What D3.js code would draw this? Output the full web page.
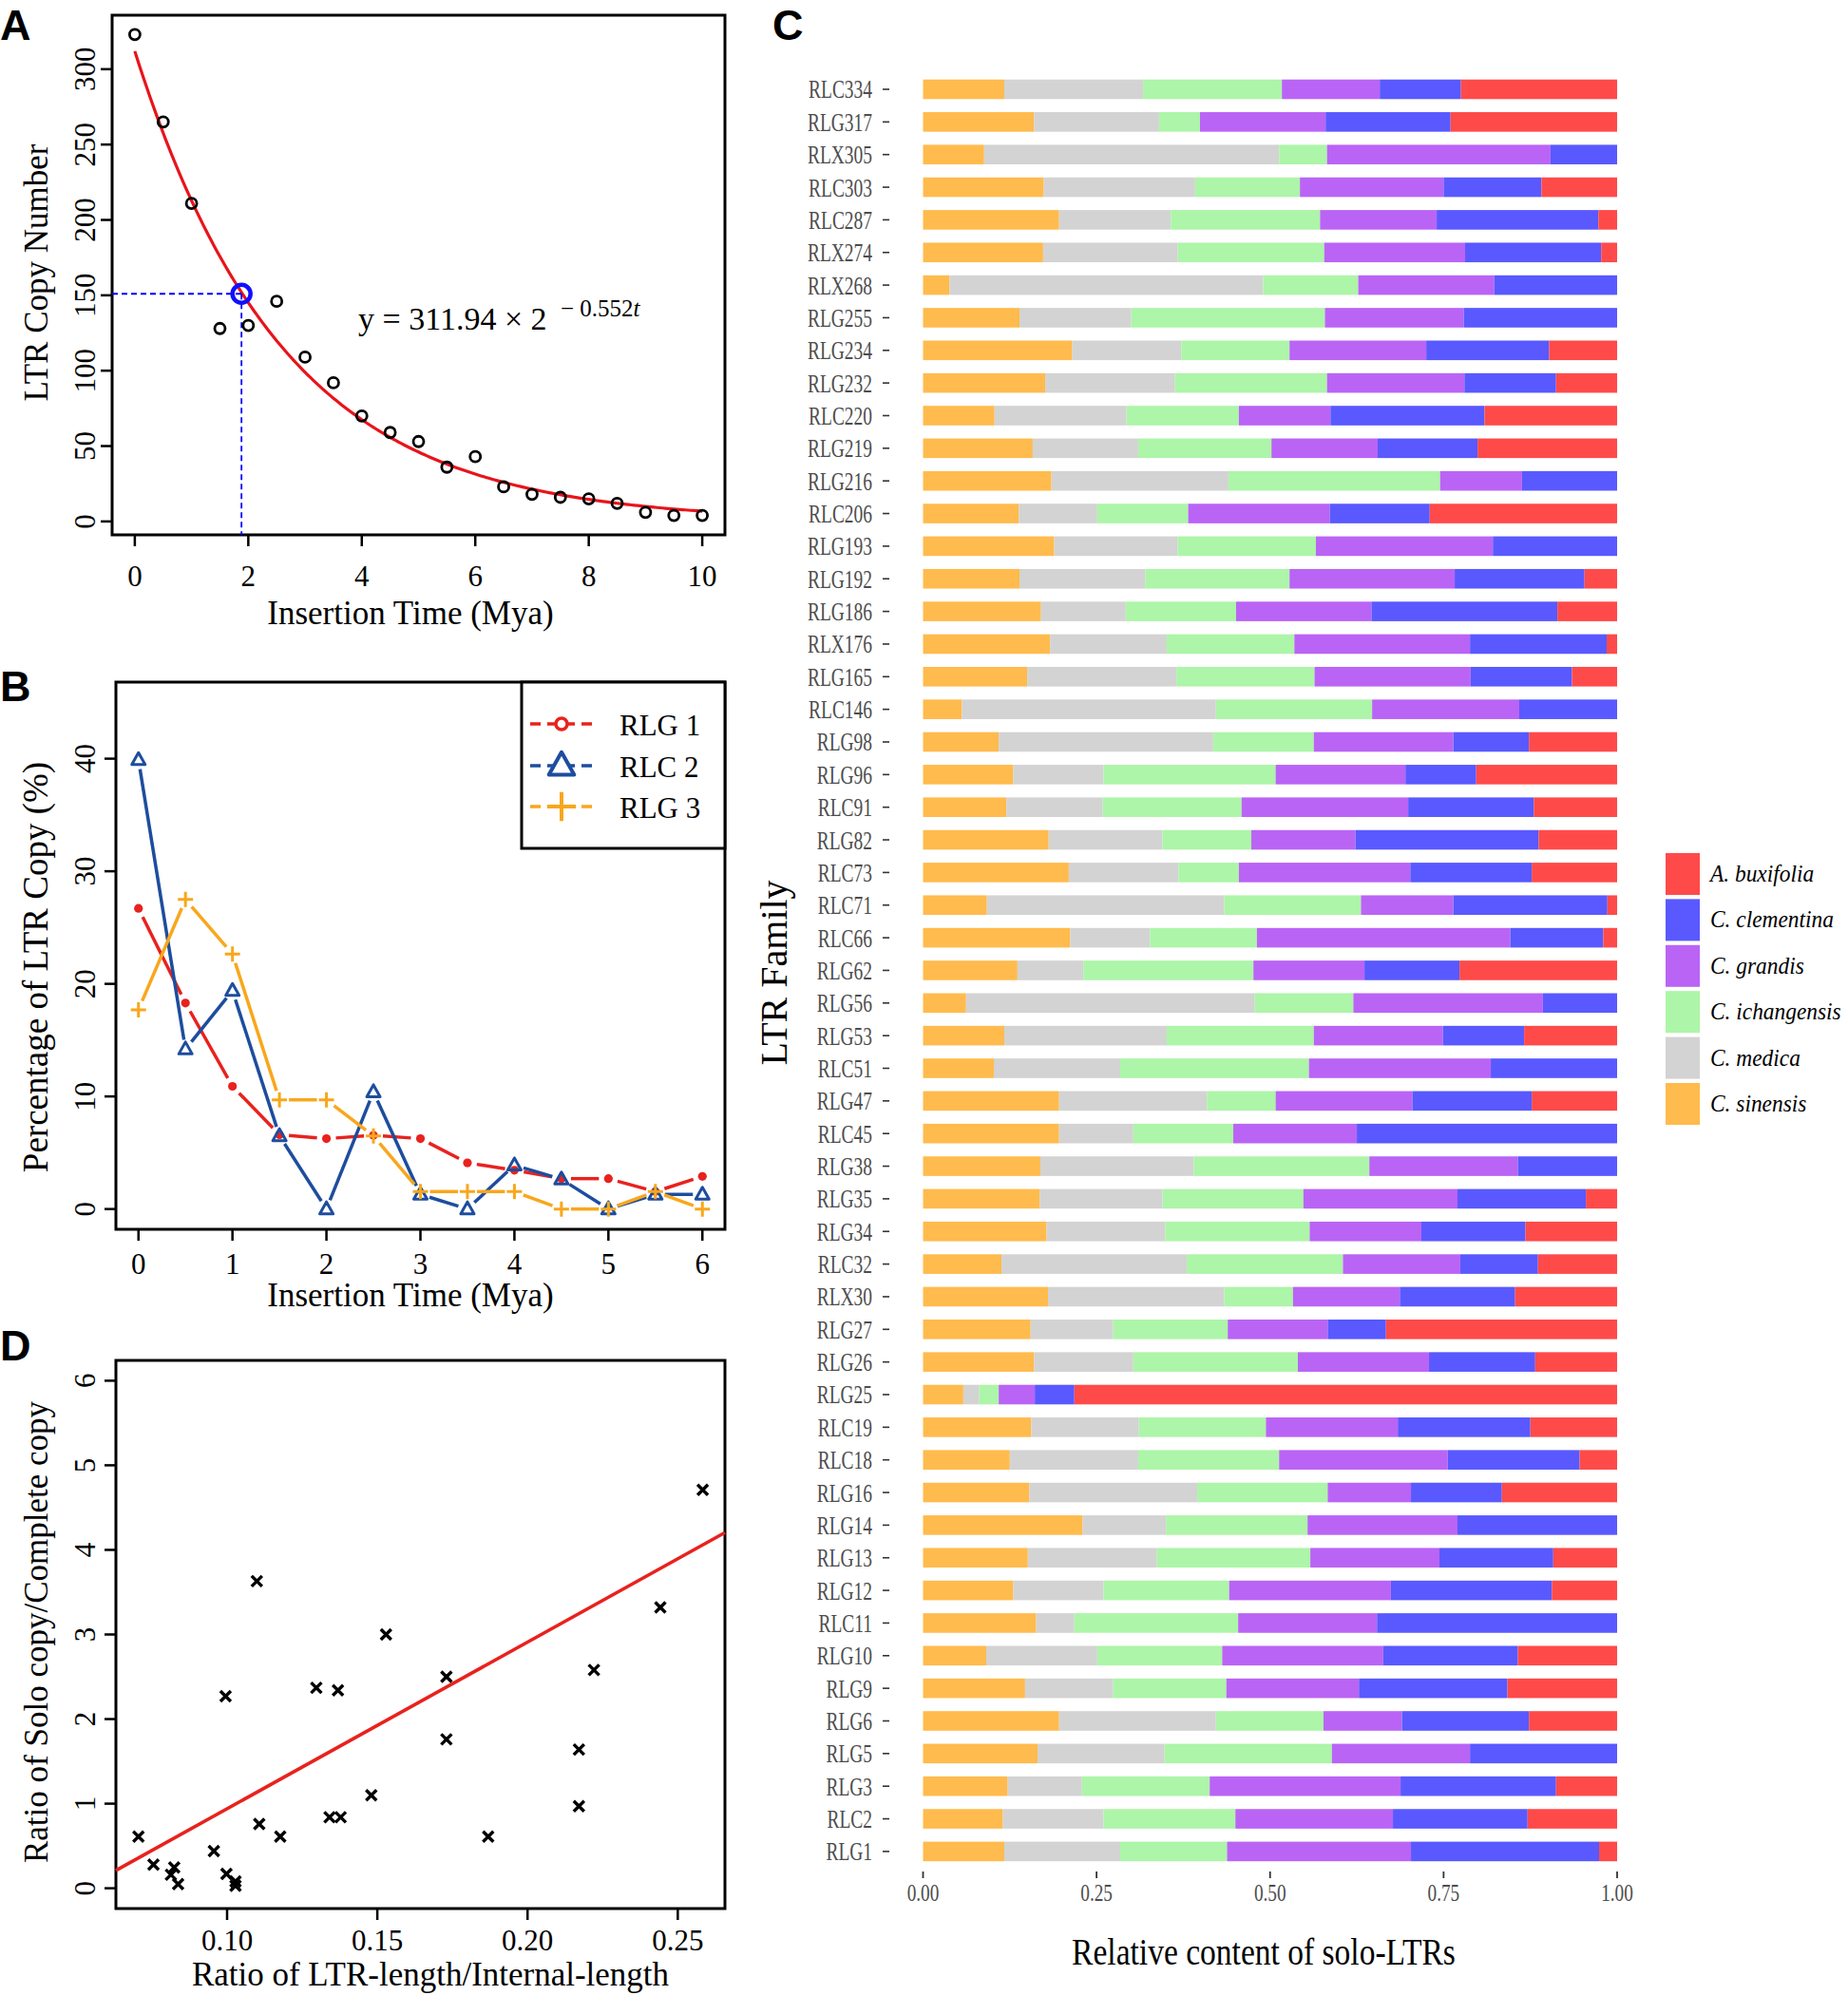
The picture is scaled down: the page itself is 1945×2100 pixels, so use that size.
<!DOCTYPE html>
<html><head><meta charset="utf-8">
<script src="https://cdn.jsdelivr.net/npm/d3@7"></script>
<style>body{margin:0;background:#fff;} text{font-family:"Liberation Serif",serif;}</style>
</head><body><script>
// ---------- Panel A data ----------
const insertTimeA = [0,0.5,1,1.5,2,2.5,3,3.5,4,4.5,5,5.5,6,6.5,7,7.5,8,8.5,9,9.5,10];
const copyNumberA = [323,265,211,128,130,146,109,92,70,59,53,36,43,23,18,16,15,12,6,4,4];
const fitCoefA = 311.94, fitRateA = 0.552;
const halfLifeT = 1.88, halfLifeY = 151;
const xTicksA = [0,2,4,6,8,10];
const yTicksA = [0,50,100,150,200,250,300];

// ---------- Panel B data ----------
const timeB = [0,0.5,1,1.5,2,2.5,3,3.5,4,4.5,5,5.5,6];
const rlg1 = [26.7,18.3,10.9,6.6,6.25,6.55,6.25,4.1,3.45,2.7,2.7,1.55,2.9];
const rlc2 = [39.9,14.2,19.4,6.5,0,10.4,1.3,0,3.9,2.65,0,1.3,1.3];
const rlg3 = [17.7,27.5,22.65,9.7,9.7,6.5,1.55,1.55,1.55,0,0,1.55,0];
const seriesNamesB = ["RLG 1","RLC 2","RLG 3"];
const xTicksB = [0,1,2,3,4,5,6];
const yTicksB = [0,10,20,30,40];

// ---------- Panel D data ----------
const ltrRatio  = [0.0705,0.0755,0.0824,0.0813,0.0837,0.0956,0.0998,0.1028,0.1028,0.0995,0.1099,0.1107,0.1177,0.1297,0.1369,0.1341,0.1378,0.1480,0.1529,0.1730,0.1730,0.1869,0.2171,0.2171,0.2221,0.2442,0.2583];
const soloRatio = [0.61,0.28,0.245,0.16,0.05,0.44,0.17,0.08,0.03,2.27,3.63,0.76,0.61,2.37,2.34,0.84,0.84,1.10,3.00,2.50,1.76,0.61,1.64,0.97,2.58,3.32,4.71];
const regIntercept = -1.03, regSlope = 19.7;
const xTicksD = [0.10,0.15,0.20,0.25];
const yTicksD = [0,1,2,3,4,5,6];

// ---------- Panel C data ----------
const families = ["RLC334","RLG317","RLX305","RLC303","RLC287","RLX274","RLX268","RLG255","RLG234","RLG232","RLC220","RLG219","RLG216","RLC206","RLG193","RLG192","RLG186","RLX176","RLG165","RLC146","RLG98","RLG96","RLC91","RLG82","RLC73","RLC71","RLC66","RLG62","RLG56","RLG53","RLC51","RLG47","RLC45","RLG38","RLG35","RLG34","RLC32","RLX30","RLG27","RLG26","RLG25","RLC19","RLC18","RLG16","RLG14","RLG13","RLG12","RLC11","RLG10","RLG9","RLG6","RLG5","RLG3","RLC2","RLG1"];
const sinensis = [.117,.160,.088,.174,.196,.173,.038,.139,.215,.176,.103,.158,.185,.138,.189,.139,.170,.183,.150,.056,.109,.130,.120,.181,.210,.092,.212,.136,.062,.117,.102,.196,.196,.169,.168,.178,.113,.180,.155,.160,.058,.156,.125,.153,.230,.151,.130,.163,.091,.147,.196,.165,.122,.115,.117];
const medica = [.200,.180,.425,.218,.161,.194,.452,.161,.157,.187,.190,.152,.255,.113,.178,.181,.122,.168,.215,.366,.309,.130,.139,.164,.158,.342,.115,.095,.416,.234,.182,.213,.107,.221,.177,.171,.267,.254,.119,.143,.023,.155,.185,.242,.120,.186,.130,.055,.160,.127,.226,.183,.107,.145,.167];
const ichangensis = [.200,.059,.069,.151,.215,.211,.137,.279,.156,.219,.162,.192,.305,.131,.199,.208,.159,.184,.199,.225,.145,.248,.200,.128,.087,.197,.154,.245,.142,.212,.272,.099,.144,.253,.203,.208,.225,.099,.165,.237,.028,.183,.203,.188,.204,.221,.181,.236,.180,.163,.155,.241,.184,.190,.154];
const grandis = [.141,.181,.322,.207,.168,.203,.196,.200,.197,.198,.132,.153,.118,.204,.255,.238,.195,.253,.225,.212,.201,.187,.240,.150,.247,.133,.365,.160,.273,.186,.262,.197,.178,.214,.222,.161,.169,.154,.144,.189,.052,.190,.243,.120,.216,.186,.233,.200,.232,.191,.113,.199,.275,.227,.265];
const clementina = [.117,.180,.096,.141,.233,.196,.177,.221,.177,.132,.222,.144,.137,.144,.179,.187,.268,.197,.146,.141,.109,.102,.181,.264,.175,.222,.134,.137,.107,.117,.182,.172,.375,.143,.185,.150,.112,.166,.084,.153,.057,.191,.190,.131,.230,.164,.232,.346,.194,.214,.183,.212,.224,.194,.271];
const buxifolia = [.225,.240,0,.109,.027,.023,0,0,.098,.088,.191,.201,0,.270,0,.047,.086,.015,.065,0,.127,.203,.120,.113,.123,.014,.020,.227,0,.134,0,.123,0,0,.045,.132,.114,.147,.333,.118,.782,.125,.054,.166,0,.092,.094,0,.143,.158,.127,0,.088,.129,.026];
const speciesKeys = ["sinensis","medica","ichangensis","grandis","clementina","buxifolia"];
const speciesLabels = ["C. sinensis","C. medica","C. ichangensis","C. grandis","C. clementina","A. buxifolia"];
const speciesColors = ["#FFBB4D","#D3D3D3","#ADF5A8","#BA64F5","#5959FF","#FF4A4A"];
const xTicksC = [0,0.25,0.5,0.75,1];

// ---------- setup ----------
const W = 1945, H = 2100;
const svg = d3.select("body").append("svg").attr("width", W).attr("height", H);
svg.append("rect").attr("width", W).attr("height", H).attr("fill", "#fff");
const SANS = '"Liberation Sans", Arial, sans-serif';

function panelLetter(t, x, y) {
  svg.append("text").attr("x", x).attr("y", y).text(t)
    .style("font-family", SANS).style("font-weight", "bold").style("font-size", "45px");
}

// R base-graphics style frame + axes
function rFrame(box, x, y, xt, yt, xfmt, yfmt, o) {
  const g = svg.append("g");
  g.append("rect").attr("x", box.x0).attr("y", box.y0)
    .attr("width", box.x1 - box.x0).attr("height", box.y1 - box.y0)
    .attr("fill", "none").attr("stroke", "#000").attr("stroke-width", 3);
  const tl = 12;
  xt.forEach(v => {
    g.append("line").attr("x1", x(v)).attr("x2", x(v)).attr("y1", box.y1).attr("y2", box.y1 + tl)
      .attr("stroke", "#000").attr("stroke-width", 2.5);
    g.append("text").attr("x", x(v)).attr("y", box.y1 + o.xLabOff).attr("text-anchor", "middle")
      .style("font-size", o.tickSize + "px").text(xfmt(v));
  });
  yt.forEach(v => {
    g.append("line").attr("x1", box.x0 - tl).attr("x2", box.x0).attr("y1", y(v)).attr("y2", y(v))
      .attr("stroke", "#000").attr("stroke-width", 2.5);
    g.append("text").attr("transform", `translate(100,${y(v)}) rotate(-90)`).attr("text-anchor", "middle")
      .style("font-size", o.tickSize + "px").text(yfmt(v));
  });
  g.append("text").attr("x", o.xTitleX).attr("y", box.y1 + o.xTitleOff).attr("text-anchor", "middle")
    .style("font-size", o.titleSize + "px").text(o.xTitle);
  g.append("text").attr("transform", `translate(50,${o.yTitleY}) rotate(-90)`).attr("text-anchor", "middle")
    .style("font-size", (o.yTitleSize || o.titleSize) + "px").text(o.yTitle);
  return g;
}

// ---------- Panel A ----------
{
  const box = {x0: 118, x1: 763, y0: 16, y1: 563};
  const x = d3.scaleLinear([-0.4, 10.4], [box.x0, box.x1]);
  const y = d3.scaleLinear([-8.9, 335.8], [box.y1, box.y0]);
  rFrame(box, x, y, xTicksA, yTicksA, d3.format("d"), d3.format("d"),
    {xLabOff: 54, tickSize: 31, titleSize: 35, xTitle: "Insertion Time (Mya)", xTitleX: 432, xTitleOff: 94,
     yTitle: "LTR Copy Number", yTitleY: 287});
  const g = svg.append("g");
  const ts = d3.range(0, 10.0001, 0.05);
  g.append("path").attr("d", d3.line().x(t => x(t)).y(t => y(fitCoefA * Math.pow(2, -fitRateA * t)))(ts))
    .attr("fill", "none").attr("stroke", "#E8141B").attr("stroke-width", 3.2);
  g.append("line").attr("x1", box.x0).attr("x2", x(halfLifeT)).attr("y1", y(halfLifeY)).attr("y2", y(halfLifeY))
    .attr("stroke", "#0000FF").attr("stroke-width", 1.8).attr("stroke-dasharray", "6,4");
  g.append("line").attr("x1", x(halfLifeT)).attr("x2", x(halfLifeT)).attr("y1", y(halfLifeY)).attr("y2", box.y1)
    .attr("stroke", "#0000FF").attr("stroke-width", 1.8).attr("stroke-dasharray", "6,4");
  insertTimeA.forEach((t, i) => {
    g.append("circle").attr("cx", x(t)).attr("cy", y(copyNumberA[i])).attr("r", 5.5)
      .attr("fill", "none").attr("stroke", "#000").attr("stroke-width", 2.8);
  });
  g.append("circle").attr("cx", x(halfLifeT)).attr("cy", y(halfLifeY)).attr("r", 9.5)
    .attr("fill", "none").attr("stroke", "#1010FF").attr("stroke-width", 4.5);
  const eq = g.append("text").attr("x", 377).attr("y", 347).style("font-size", "34px");
  eq.append("tspan").text("y = 311.94 \u00D7 2");
  const sup = g.append("text").attr("x", 590).attr("y", 333).style("font-size", "25px");
  sup.append("tspan").text("\u2212 0.552");
  sup.append("tspan").style("font-style", "italic").text("t");
  panelLetter("A", 0, 42);
}

// ---------- Panel B ----------
{
  const box = {x0: 122, x1: 763, y0: 718, y1: 1294};
  const x = d3.scaleLinear([-0.24, 6.24], [box.x0, box.x1]);
  const y = d3.scaleLinear([-1.8, 46.8], [box.y1, box.y0]);
  rFrame(box, x, y, xTicksB, yTicksB, d3.format("d"), d3.format("d"),
    {xLabOff: 47, tickSize: 31, titleSize: 35, yTitleSize: 37, xTitle: "Insertion Time (Mya)", xTitleX: 432, xTitleOff: 81,
     yTitle: "Percentage of LTR Copy  (%)", yTitleY: 1018});
  const g = svg.append("g");
  const cols = ["#E8221E", "#1D4D9E", "#F8A71C"];
  const sets = [rlg1, rlc2, rlg3];
  const gap = 10;
  function marker(gg, k, cx, cy, big) {
    const s = big ? 1.9 : 1;
    if (k === 0) {
      if (big) gg.append("circle").attr("cx", cx).attr("cy", cy).attr("r", 6).attr("fill", "#fff").attr("stroke", cols[0]).attr("stroke-width", 3.5);
      else gg.append("circle").attr("cx", cx).attr("cy", cy).attr("r", 4.6).attr("fill", cols[0]);
    } else if (k === 1) {
      const w = 14 * s, h = 12.5 * s;
      gg.append("path").attr("d", `M${cx},${cy - h * 0.6}L${cx - w / 2},${cy + h * 0.4}L${cx + w / 2},${cy + h * 0.4}Z`)
        .attr("fill", big ? "#fff" : "none").attr("stroke", cols[1]).attr("stroke-width", big ? 4 : 3).attr("stroke-linejoin", "round");
    } else {
      const a = 8 * s;
      gg.append("path").attr("d", `M${cx - a},${cy}H${cx + a}M${cx},${cy - a}V${cy + a}`)
        .attr("stroke", cols[2]).attr("stroke-width", big ? 4 : 3);
    }
  }
  sets.forEach((vals, k) => {
    const pts = timeB.map((t, i) => [x(t), y(vals[i])]);
    for (let i = 0; i < pts.length - 1; i++) {
      const [x1, y1] = pts[i], [x2, y2] = pts[i + 1];
      const dx = x2 - x1, dy = y2 - y1, L = Math.hypot(dx, dy);
      if (L <= 2 * gap) continue;
      const ux = dx / L, uy = dy / L;
      g.append("line").attr("x1", x1 + ux * gap).attr("y1", y1 + uy * gap)
        .attr("x2", x2 - ux * gap).attr("y2", y2 - uy * gap)
        .attr("stroke", cols[k]).attr("stroke-width", 3.5);
    }
    pts.forEach(p => marker(g, k, p[0], p[1], false));
  });
  // legend
  const lg = svg.append("g");
  lg.append("rect").attr("x", 549).attr("y", box.y0).attr("width", box.x1 - 549).attr("height", 893 - box.y0)
    .attr("fill", "#fff").attr("stroke", "#000").attr("stroke-width", 3);
  const ly = [762, 806, 849];
  seriesNamesB.forEach((nm, k) => {
    lg.append("line").attr("x1", 558).attr("x2", 624).attr("y1", ly[k]).attr("y2", ly[k])
      .attr("stroke", cols[k]).attr("stroke-width", 3.5).attr("stroke-dasharray", "11,7");
    marker(lg, k, 591, ly[k], true);
    lg.append("text").attr("x", 652).attr("y", ly[k] + 12).style("font-size", "31px").text(nm);
  });
  panelLetter("B", 0, 738);
}

// ---------- Panel D ----------
{
  const box = {x0: 122, x1: 763, y0: 1432, y1: 2009};
  const x = d3.scaleLinear([0.063, 0.2657], [box.x0, box.x1]);
  const y = d3.scaleLinear([-0.24, 6.24], [box.y1, box.y0]);
  rFrame(box, x, y, xTicksD, yTicksD, d3.format(".2f"), d3.format("d"),
    {xLabOff: 44, tickSize: 31, titleSize: 35, xTitle: "Ratio of LTR-length/Internal-length", xTitleX: 453, xTitleOff: 81,
     yTitle: "Ratio of Solo copy/Complete copy", yTitleY: 1718});
  const g = svg.append("g");
  const [dx0, dx1] = x.domain();
  g.append("line").attr("x1", x(dx0)).attr("y1", y(regIntercept + regSlope * dx0))
    .attr("x2", x(dx1)).attr("y2", y(regIntercept + regSlope * dx1))
    .attr("stroke", "#E8221E").attr("stroke-width", 3.6);
  ltrRatio.forEach((v, i) => {
    const cx = x(v), cy = y(soloRatio[i]), a = 5.5;
    g.append("path").attr("d", `M${cx - a},${cy - a}L${cx + a},${cy + a}M${cx - a},${cy + a}L${cx + a},${cy - a}`)
      .attr("stroke", "#000").attr("stroke-width", 3.4);
  });
  panelLetter("D", 0, 1432);
}

// ---------- Panel C ----------
{
  const x = d3.scaleLinear([0, 1], [971.5, 1702]);
  const step = 34.35;
  const y = d3.scaleBand().domain(families).range([94 - step / 2, 94 - step / 2 + step * families.length])
    .paddingInner(0.4).paddingOuter(0.2);
  const table = families.map((f, i) => ({family: f, sinensis: sinensis[i], medica: medica[i],
    ichangensis: ichangensis[i], grandis: grandis[i], clementina: clementina[i], buxifolia: buxifolia[i]}));
  const stack = d3.stack().keys(speciesKeys).offset(d3.stackOffsetExpand);
  const layers = stack(table);
  const color = d3.scaleOrdinal(speciesKeys, speciesColors);
  const g = svg.append("g");
  layers.forEach(layer => {
    g.append("g").attr("fill", color(layer.key)).selectAll("rect").data(layer).join("rect")
      .attr("x", d => x(d[0])).attr("width", d => Math.max(0, x(d[1]) - x(d[0])))
      .attr("y", d => y(d.data.family)).attr("height", y.bandwidth());
  });
  // y axis (ticks + labels)
  families.forEach(f => {
    const cy = y(f) + y.bandwidth() / 2;
    g.append("line").attr("x1", 929).attr("x2", 936).attr("y1", cy).attr("y2", cy)
      .attr("stroke", "#333").attr("stroke-width", 1.6);
    g.append("text").attr("transform", `translate(918,${cy}) scale(0.72,1)`).attr("text-anchor", "end")
      .attr("dy", "0.35em").attr("fill", "#4D4D4D").style("font-size", "27px").text(f);
  });
  // x axis
  const axY = 1970;
  xTicksC.forEach(v => {
    g.append("line").attr("x1", x(v)).attr("x2", x(v)).attr("y1", axY).attr("y2", axY + 7)
      .attr("stroke", "#333").attr("stroke-width", 1.8);
    g.append("text").attr("transform", `translate(${x(v)},2001) scale(0.77,1)`).attr("text-anchor", "middle")
      .attr("fill", "#4D4D4D").style("font-size", "25px").text(d3.format(".2f")(v));
  });
  g.append("text").attr("transform", `translate(1330,2068) scale(0.86,1)`).attr("text-anchor", "middle")
    .style("font-size", "39px").text("Relative content of solo-LTRs");
  g.append("text").attr("transform", `translate(828,1024) rotate(-90)`).attr("text-anchor", "middle")
    .style("font-size", "40px").text("LTR Family");
  // legend (reverse order: buxifolia at top)
  const lg = svg.append("g");
  const order = speciesKeys.map((k, i) => i).reverse();
  order.forEach((i, j) => {
    const top = 898 + j * 48.4;
    lg.append("rect").attr("x", 1753).attr("y", top).attr("width", 36).attr("height", 44).attr("fill", speciesColors[i]);
    lg.append("text").attr("transform", `translate(1800,${top + 30}) scale(0.9,1)`)
      .style("font-size", "26px").style("font-style", "italic")
      .text(speciesLabels[i]);
  });
  panelLetter("C", 813, 42);
}
</script></body></html>
